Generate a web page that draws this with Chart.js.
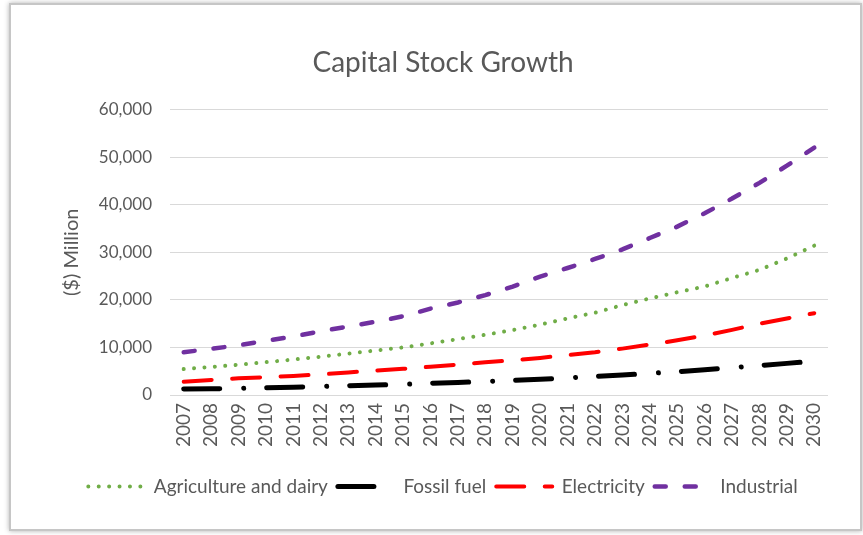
<!DOCTYPE html>
<html>
<head>
<meta charset="utf-8">
<title>Capital Stock Growth</title>
<script src="https://cdn.jsdelivr.net/npm/chart.js@4.4.1/dist/chart.umd.min.js"></script>
<style>
  html, body { margin: 0; padding: 0; background: #fff; }
  body { width: 863px; height: 535px; position: relative; overflow: hidden; }
  .frame {
    position: absolute; left: 9px; top: 3px; width: 853px; height: 528px;
    box-sizing: border-box; border: 2px solid #c6c6c6;
    box-shadow: 0 0 5px rgba(0, 0, 0, 0.3);
  }
  .wrap { position: absolute; left: 0; top: 0; width: 863px; height: 535px; }
</style>
</head>
<body>
<div class="frame"></div>
<div class="wrap"><canvas id="capitalChart"></canvas></div>
<script>
const years = ['2007', '2008', '2009', '2010', '2011', '2012', '2013', '2014', '2015', '2016', '2017', '2018',
  '2019', '2020', '2021', '2022', '2023', '2024', '2025', '2026', '2027', '2028', '2029', '2030'];

// $ million
const agriculture = [5450, 5900, 6350, 6900, 7450, 8050, 8700, 9350, 10000, 10850, 11750, 12650,
  13650, 14800, 16100, 17300, 18900, 20300, 21600, 22800, 24600, 26300, 28700, 31400];
const fossilFuel = [1250, 1300, 1400, 1500, 1650, 1800, 1950, 2100, 2250, 2450, 2650, 2850,
  3050, 3300, 3600, 3900, 4200, 4550, 4900, 5300, 5750, 6200, 6650, 7100];
const electricity = [2800, 3150, 3500, 3750, 4000, 4350, 4750, 5150, 5500, 5950, 6400, 6900,
  7300, 7800, 8400, 9000, 9750, 10600, 11500, 12500, 13700, 15000, 16100, 17200];
const industrial = [9000, 9700, 10450, 11400, 12300, 13400, 14400, 15400, 16550, 18150, 19450, 21000,
  22800, 24900, 26700, 28600, 30600, 33000, 35400, 38200, 41300, 44600, 48200, 52000];

const yTicks = [0, 10000, 20000, 30000, 40000, 50000, 60000];

const textGrey = '#595959';
const fontFamily = 'Lato, "Open Sans", sans-serif';

function series(label, data, color, width, dash) {
  return {
    label,
    data,
    borderColor: color,
    backgroundColor: color,
    borderWidth: width,
    borderDash: dash,
    borderCapStyle: 'round',
    pointRadius: 0,
    pointHoverRadius: 0,
    tension: 0,
    fill: false,
  };
}

// with usePointStyle the legend takes its style from the point, so copy the line dash back in
function legendLabels(chart) {
  const items = Chart.defaults.plugins.legend.labels.generateLabels(chart);
  items.forEach((item) => {
    const ds = chart.data.datasets[item.datasetIndex];
    item.lineDash = ds.borderDash;
    item.lineCap = 'round';
    item.lineWidth = ds.borderWidth;
    item.strokeStyle = ds.borderColor;
  });
  return items;
}

const chart = new Chart(document.getElementById('capitalChart').getContext('2d'), {
  type: 'line',
  data: {
    labels: years,
    datasets: [
      series('Agriculture and dairy', agriculture, '#70ad47', 4, [0.01, 10.4]),
      series('Fossil fuel', fossilFuel, '#000000', 5, [36, 24, 0.01, 23]),
      series('Electricity', electricity, '#ff0000', 4, [28, 20.5]),
      series('Industrial', industrial, '#7030a0', 4.5, [11, 19]),
    ],
  },
  options: {
    responsive: true,
    maintainAspectRatio: false,
    animation: false,
    layout: {
      padding: { left: 58, right: 35, top: 20, bottom: 29 },
    },
    scales: {
      x: {
        offset: true,
        grid: { display: false, drawTicks: false },
        border: { display: false },
        ticks: {
          minRotation: 90,
          maxRotation: 90,
          autoSkip: false,
          padding: 8,
          color: textGrey,
          font: { family: fontFamily, size: 19 },
        },
        afterFit: (scale) => { scale.height = 72; },
      },
      y: {
        min: 0,
        max: 60000,
        afterBuildTicks: (scale) => { scale.ticks = yTicks.map((v) => ({ value: v })); },
        grid: { color: '#d9d9d9', drawTicks: false, lineWidth: 1 },
        border: { display: false },
        ticks: {
          padding: 18,
          color: textGrey,
          font: { family: fontFamily, size: 17 },
          callback: (value) => value.toLocaleString('en-US'),
        },
        title: {
          display: true,
          text: '($) Million',
          color: textGrey,
          font: { family: fontFamily, size: 20 },
          padding: { top: 2, bottom: 4 },
        },
        afterFit: (scale) => { scale.width = 112; },
      },
    },
    plugins: {
      title: {
        display: true,
        text: 'Capital Stock Growth',
        color: textGrey,
        font: { family: fontFamily, size: 28, weight: 'normal' },
        padding: { top: 26, bottom: 30 },
      },
      legend: {
        position: 'bottom',
        labels: {
          usePointStyle: true,
          pointStyle: 'line',
          pointStyleWidth: 56,
          boxHeight: 19,
          padding: 10,
          color: textGrey,
          font: { family: fontFamily, size: 19 },
          generateLabels: legendLabels,
        },
      },
      tooltip: { enabled: false },
    },
  },
});
</script>
</body>
</html>
